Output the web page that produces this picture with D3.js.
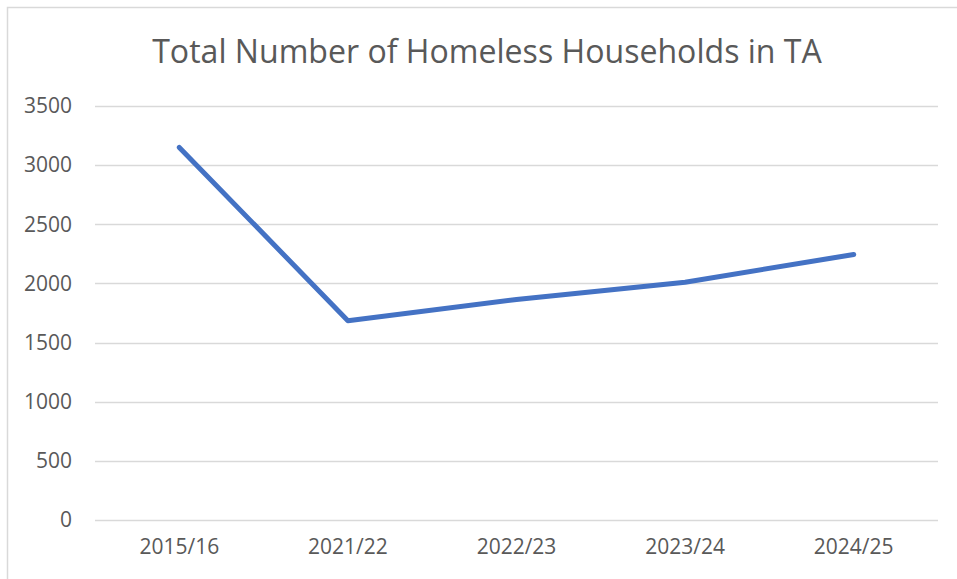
<!DOCTYPE html>
<html lang="en">
<head>
<meta charset="UTF-8">
<title>Total Number of Homeless Households in TA</title>
<style>
    body { margin: 0; background: #fff; }
    text { font-family: "Open Sans", "Liberation Sans", sans-serif; fill: #595959; }
</style>
</head>
<body>
<div id="chart"></div>
<script src="https://d3js.org/d3.v7.min.js"></script>
<script>
    // Data
    const years = ["2015/16", "2021/22", "2022/23", "2023/24", "2024/25"];
    const households = [3150, 1685, 1865, 2010, 2245];
    const yTicks = [0, 500, 1000, 1500, 2000, 2500, 3000, 3500];
    const titleText = "Total Number of Homeless Households in TA";

    const W = 957, H = 579;
    const plot = { left: 95, right: 938, top: 106, bottom: 520 };

    const svg = d3.select("#chart").append("svg")
        .attr("width", W)
        .attr("height", H);

    // chart area border (right/bottom edges fall outside the picture)
    svg.append("rect")
        .attr("x", 7.5).attr("y", 7.5)
        .attr("width", W + 10).attr("height", H + 10)
        .attr("fill", "#fff")
        .attr("stroke", "#d9d9d9")
        .attr("stroke-width", 1.5);

    const x = d3.scaleBand()
        .domain(years)
        .range([plot.left, plot.right]);

    const y = d3.scaleLinear()
        .domain([0, 3500])
        .range([plot.bottom, plot.top]);

    // gridlines
    svg.append("g")
        .selectAll("line")
        .data(yTicks)
        .join("line")
        .attr("x1", plot.left).attr("x2", plot.right)
        .attr("y1", d => Math.round(y(d)) + 0.5)
        .attr("y2", d => Math.round(y(d)) + 0.5)
        .attr("stroke", "#d9d9d9")
        .attr("stroke-width", 1.3);

    // y axis labels
    const yAxis = svg.append("g")
        .attr("transform", `translate(${plot.left},0)`)
        .call(d3.axisLeft(y).tickValues(yTicks).tickFormat(d3.format("d")).tickSize(0).tickPadding(23));
    yAxis.select(".domain").remove();
    yAxis.selectAll("text")
        .style("font-size", "21px")
        .attr("fill", "#595959");

    // x axis labels
    const xAxis = svg.append("g")
        .attr("transform", `translate(0,${plot.bottom})`)
        .call(d3.axisBottom(x).tickSize(0).tickPadding(19));
    xAxis.select(".domain").remove();
    xAxis.selectAll("text")
        .style("font-size", "21px")
        .attr("fill", "#595959");

    // line
    const line = d3.line()
        .x((d, i) => x(years[i]) + x.bandwidth() / 2)
        .y(d => y(d));

    svg.append("path")
        .datum(households)
        .attr("d", line)
        .attr("fill", "none")
        .attr("stroke", "#4472c4")
        .attr("stroke-width", 5)
        .attr("stroke-linecap", "round")
        .attr("stroke-linejoin", "round");

    // title, fitted to the reference width
    const title = svg.append("text")
        .attr("x", 487)
        .attr("y", 63)
        .attr("text-anchor", "middle")
        .style("font-size", "30px")
        .text(titleText);
    const tw = title.node().getComputedTextLength();
    title.style("font-size", (30 * 670 / tw).toFixed(2) + "px");
</script>
</body>
</html>
